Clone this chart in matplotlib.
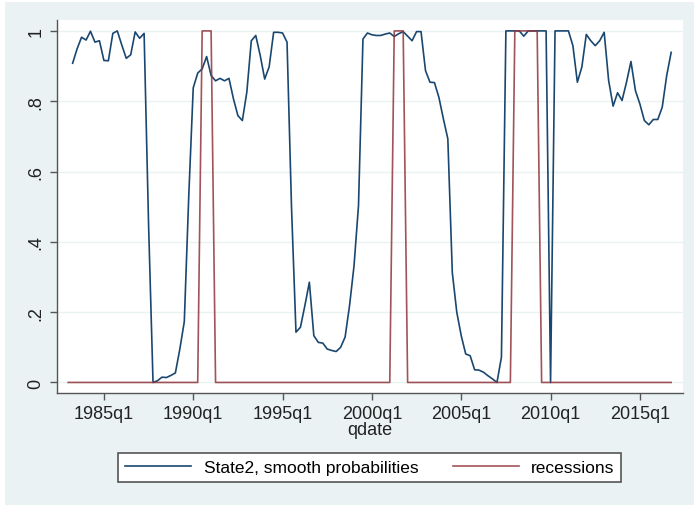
import matplotlib
matplotlib.use('Agg')
import matplotlib.pyplot as plt
from matplotlib.patches import Rectangle
import numpy as np

plt.rcParams['font.family'] = ['Liberation Sans', 'DejaVu Sans']

# quarterly dates (Stata qdate: quarters since 1960q1), 1983q1 .. 2016q4
qdate = np.arange(92, 228)

# smoothed probability of state 2, starts 1983q2
state2 = [
    0.908, 0.949, 0.982, 0.974, 0.999, 0.968, 0.972, 0.916, 0.915, 0.993,
    1.000, 0.960, 0.922, 0.932, 0.997, 0.979, 0.993, 0.450, 0.000, 0.005,
    0.015, 0.014, 0.020, 0.027, 0.095, 0.173, 0.531, 0.838, 0.880, 0.892,
    0.927, 0.873, 0.858, 0.865, 0.858, 0.865, 0.807, 0.759, 0.745, 0.826,
    0.972, 0.987, 0.930, 0.863, 0.898, 0.996, 0.996, 0.994, 0.968, 0.500,
    0.143, 0.157, 0.219, 0.285, 0.133, 0.114, 0.112, 0.095, 0.091, 0.088,
    0.100, 0.129, 0.219, 0.332, 0.503, 0.977, 0.994, 0.989, 0.987, 0.987,
    0.991, 0.994, 0.984, 0.992, 0.998, 0.985, 0.972, 0.998, 0.998, 0.887,
    0.854, 0.853, 0.811, 0.750, 0.693, 0.313, 0.200, 0.133, 0.081, 0.076,
    0.036, 0.035, 0.029, 0.019, 0.010, 0.000, 0.072, 1.000, 1.000, 1.000,
    1.000, 0.985, 1.000, 1.000, 1.000, 1.000, 1.000, 0.000, 1.000, 1.000,
    1.000, 1.000, 0.958, 0.854, 0.897, 0.990, 0.972, 0.958, 0.972, 0.996,
    0.859, 0.786, 0.824, 0.802, 0.854, 0.913, 0.830, 0.792, 0.745, 0.733,
    0.748, 0.748, 0.783, 0.873, 0.939,
]
state2_q = qdate[1:]

# recession quarters (start, end) inclusive
recession_spans = [(122, 124), (165, 167), (192, 197)]
recessions = np.zeros(len(qdate))
for a, b in recession_spans:
    recessions[(qdate >= a) & (qdate <= b)] = 1

xticks = [100, 120, 140, 160, 180, 200, 220]
xticklabels = ['1985q1', '1990q1', '1995q1', '2000q1', '2005q1', '2010q1', '2015q1']
yticks = [0, 0.2, 0.4, 0.6, 0.8, 1]
yticklabels = ['0', '.2', '.4', '.6', '.8', '1']

bg = '#eaf2f3'
navy = '#1a476f'
maroon = '#90353b'

fig = plt.figure(figsize=(6.94, 5.06), dpi=100, facecolor='white')
fig.patches.append(Rectangle((5 / 694, 0), 1, 1 - 3 / 506, transform=fig.transFigure,
                             facecolor=bg, edgecolor='none', zorder=-10))
ax = fig.add_axes([57 / 694, 1 - 394 / 506, (683 - 57) / 694, (394 - 21) / 506])
ax.set_facecolor('white')

ax.plot(state2_q, state2, color=navy, lw=1.2, label='State2, smooth probabilities')
ax.plot(qdate, recessions, color=maroon, lw=1.2, alpha=0.85, label='recessions')

ax.set_xlim(89.5, 229.65)
ax.set_ylim(-0.03, 1.031)
ax.set_xticks(xticks)
ax.set_xticklabels(xticklabels, fontsize=13, color='#222222')
ax.set_yticks(yticks)
ax.set_yticklabels(yticklabels, fontsize=13, rotation=90, va='center', color='#222222')
ax.set_xlabel('qdate', fontsize=13, labelpad=-1, color='#222222')

ax.grid(axis='y', color=bg, lw=1.0)
ax.set_axisbelow(True)
for s in ['top', 'right']:
    ax.spines[s].set_visible(False)
for s in ['left', 'bottom']:
    ax.spines[s].set_color('#555555')
    ax.spines[s].set_linewidth(1.0)
ax.tick_params(axis='both', direction='out', length=5, width=1, color='#555555', pad=4)

leg = fig.legend(loc='center', bbox_to_anchor=(0.533, 0.075), ncol=2, fontsize=12.5,
                 frameon=True, fancybox=False, handlelength=3.8, handletextpad=0.7,
                 columnspacing=2.0, borderpad=0.4, borderaxespad=0)
leg.get_frame().set_edgecolor('#555555')
leg.get_frame().set_linewidth(1.2)
leg.get_frame().set_facecolor('white')
leg.get_frame().set_alpha(1)

fig.savefig('out.png', dpi=100, facecolor=fig.get_facecolor())
